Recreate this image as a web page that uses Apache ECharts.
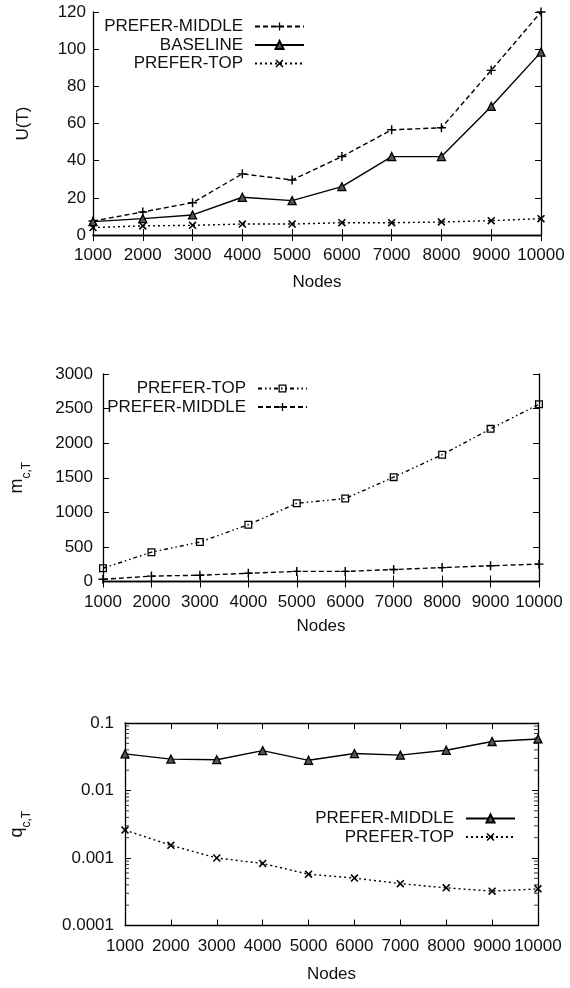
<!DOCTYPE html>
<html lang="en">
<head>
    <meta charset="UTF-8">
    <title>U(T), m and q vs nodes</title>
    <style>
        body { margin: 0; background: #fff; }
        #chart1 { position: absolute; left: 0; top: 0; width: 570px; height: 300px; }
        #chart2 { position: absolute; left: 0; top: 300px; width: 570px; height: 340px; }
        #chart3 { position: absolute; left: 0; top: 640px; width: 570px; height: 348px; }
    </style>
</head>
<body>
<div id="chart1"></div>
<div id="chart2"></div>
<div id="chart3"></div>
<script src="https://cdn.jsdelivr.net/npm/echarts@6/dist/echarts.min.js"></script>
<script type="text/javascript">
    var nodes = [1000, 2000, 3000, 4000, 5000, 6000, 7000, 8000, 9000, 10000];

    // U(T)
    var uMiddle = [7.5, 12.4, 17.4, 32.9, 29.6, 42.2, 56.6, 57.7, 88.6, 120];
    var uBaseline = [7.2, 8.8, 10.8, 20.3, 18.5, 26, 42.2, 42.2, 69.2, 98.4];
    var uTop = [4.0, 4.9, 5.2, 5.9, 5.9, 6.6, 6.6, 7.0, 7.7, 8.8];

    // m_c,T
    var mTop = [191, 424, 570, 821, 1131, 1199, 1509, 1833, 2207, 2563];
    var mMiddle = [32, 78, 91, 119, 146, 146, 173, 201, 228, 251];

    // q_c,T (log scale)
    var qMiddle = [0.0349, 0.0292, 0.0286, 0.039, 0.028, 0.0353, 0.0334, 0.0394, 0.0532, 0.058];
    var qTop = [0.00259, 0.00154, 0.001, 0.00083, 0.000575, 0.000504, 0.000417, 0.000361, 0.000323, 0.000349];

    var logTicks = [0.0001, 0.001, 0.01, 0.1];

    var FONT = 'Liberation Sans';
    var INK = '#111';
    var FS = 17;

    var PLUS = 'path://M0,4.2L10,4.2L10,5.8L0,5.8Z M4.2,0L5.8,0L5.8,10L4.2,10Z';
    var CROSS = 'path://M0,1.4L1.4,0L10,8.6L8.6,10Z M8.6,0L10,1.4L1.4,10L0,8.6Z';
    // open square with the line showing through the middle
    var BOX = 'path://M0,0L10,0L10,10L0,10Z M1.6,1.6L1.6,8.4L8.4,8.4L8.4,1.6Z';

    function pairs(ys) {
        return nodes.map(function (x, i) { return [x, ys[i]]; });
    }

    function line(name, ys, dash, symbol, size, fill) {
        return {
            name: name,
            type: 'line',
            data: pairs(ys),
            clip: false,
            symbol: symbol,
            symbolSize: size,
            showAllSymbol: true,
            lineStyle: { color: '#000', width: 1.4, type: dash },
            itemStyle: fill ? { color: fill, borderColor: '#000', borderWidth: 1.3 }
                            : { color: '#000', borderWidth: 0 },
            emphasis: { disabled: true },
            animation: false
        };
    }

    function xAxes(nameGap) {
        var base = {
            type: 'value', min: 1000, max: 10000, interval: 1000,
            axisLine: { lineStyle: { color: '#000', width: 1.3 } },
            axisTick: { inside: true, length: 6, lineStyle: { color: '#000', width: 1 } },
            splitLine: { show: false }
        };
        return [
            Object.assign({}, base, {
                position: 'bottom',
                name: 'Nodes', nameLocation: 'middle', nameGap: nameGap,
                nameTextStyle: { fontFamily: FONT, fontSize: FS, color: INK },
                axisLabel: {
                    fontFamily: FONT, fontSize: FS, color: INK, margin: 12,
                    showMinLabel: true, showMaxLabel: true, hideOverlap: false,
                    formatter: function (v) { return String(v); }
                }
            }),
            Object.assign({}, base, { position: 'top', axisLabel: { show: false } })
        ];
    }

    function yAxes(extra, labelMargin, nameCfg) {
        var base = Object.assign({
            axisLine: { show: true, lineStyle: { color: '#000', width: 1.3 } },
            axisTick: { show: true, inside: true, length: 6, lineStyle: { color: '#000', width: 1 } },
            splitLine: { show: false }
        }, extra);
        return [
            Object.assign({}, base, {
                position: 'left',
                axisLabel: {
                    fontFamily: FONT, fontSize: FS, color: INK, margin: labelMargin,
                    formatter: extra.labelFormatter || function (v) { return String(v); }
                }
            }, nameCfg),
            Object.assign({}, base, { position: 'right', axisLabel: { show: false } })
        ];
    }

    function legend(names, right, top) {
        return {
            data: names,
            orient: 'vertical',
            align: 'right',
            right: right,
            top: top,
            padding: 0,
            itemWidth: 49,
            itemHeight: 10,
            itemGap: 1.5,
            selectedMode: false,
            textStyle: { fontFamily: FONT, fontSize: FS, color: INK, padding: [0, 7, 0, 0] }
        };
    }

    // chart 1: U(T)
    var chart1 = echarts.init(document.getElementById('chart1'));
    chart1.setOption({
        animation: false,
        grid: { left: 93, top: 12, width: 448, height: 223 },
        legend: legend(['PREFER-MIDDLE', 'BASELINE', 'PREFER-TOP'], 265, 18),
        xAxis: xAxes(38.5),
        yAxis: yAxes({ type: 'value', min: 0, max: 120, interval: 20 }, 7, {
            name: 'U(T)', nameLocation: 'middle', nameGap: 61,
            nameTextStyle: { fontFamily: FONT, fontSize: FS, color: INK }
        }),
        series: [
            line('PREFER-MIDDLE', uMiddle, [5, 3], PLUS, 9),
            line('BASELINE', uBaseline, 'solid', 'triangle', 8, '#555'),
            line('PREFER-TOP', uTop, [2, 3], CROSS, 8)
        ]
    });

    var subName = function (letter, gap) {
        return {
            name: '{m|' + letter + '}{s|c,T}', nameLocation: 'middle', nameGap: gap,
            nameTextStyle: {
                fontFamily: FONT, color: INK,
                rich: {
                    m: { fontFamily: FONT, fontSize: 18, color: INK, lineHeight: 18, verticalAlign: 'top' },
                    s: { fontFamily: FONT, fontSize: 12, color: INK, lineHeight: 25, verticalAlign: 'bottom' }
                }
            }
        };
    };

    // chart 2: m_c,T
    var chart2 = echarts.init(document.getElementById('chart2'));
    chart2.setOption({
        animation: false,
        grid: { left: 98, top: 74, width: 441, height: 219 },
        legend: legend(['PREFER-TOP', 'PREFER-MIDDLE'], 262, 80),
        xAxis: xAxes(36.5),
        yAxis: yAxes({ type: 'value', min: 0, max: 3000, interval: 500 }, 10, subName('m', 70)),
        series: [
            line('PREFER-TOP', mTop, [4, 3, 1.5, 3, 1.5, 3], BOX, 8),
            line('PREFER-MIDDLE', mMiddle, [5, 3], PLUS, 9)
        ]
    });

    // minor ticks of the log axis, 2..9 per decade, on both frame sides
    var minor = [];
    for (var d = 0; d < logTicks.length - 1; d++) {
        for (var k = 2; k <= 9; k++) {
            minor.push(k * logTicks[d]);
        }
    }
    function minorSeries(x, off) {
        return {
            type: 'scatter',
            data: minor.map(function (v) { return [x, v]; }),
            symbol: 'rect',
            symbolSize: [4, 1],
            symbolOffset: [off, 0],
            itemStyle: { color: '#000' },
            silent: true,
            clip: false,
            animation: false
        };
    }

    // chart 3: q_c,T
    var chart3 = echarts.init(document.getElementById('chart3'));
    chart3.setOption({
        animation: false,
        grid: { left: 120, top: 83, width: 418, height: 207 },
        legend: legend(['PREFER-MIDDLE', 'PREFER-TOP'], 54, 170),
        xAxis: xAxes(40.5),
        yAxis: yAxes({
            type: 'log', logBase: 10, min: logTicks[0], max: logTicks[logTicks.length - 1],
            labelFormatter: function (v) { return String(+v.toPrecision(1)); }
        }, 11, subName('q', 92)),
        series: [
            line('PREFER-MIDDLE', qMiddle, 'solid', 'triangle', 8, '#555'),
            line('PREFER-TOP', qTop, [2, 3], CROSS, 8),
            minorSeries(1000, 2),
            minorSeries(10000, -2)
        ]
    });
</script>
</body>
</html>
